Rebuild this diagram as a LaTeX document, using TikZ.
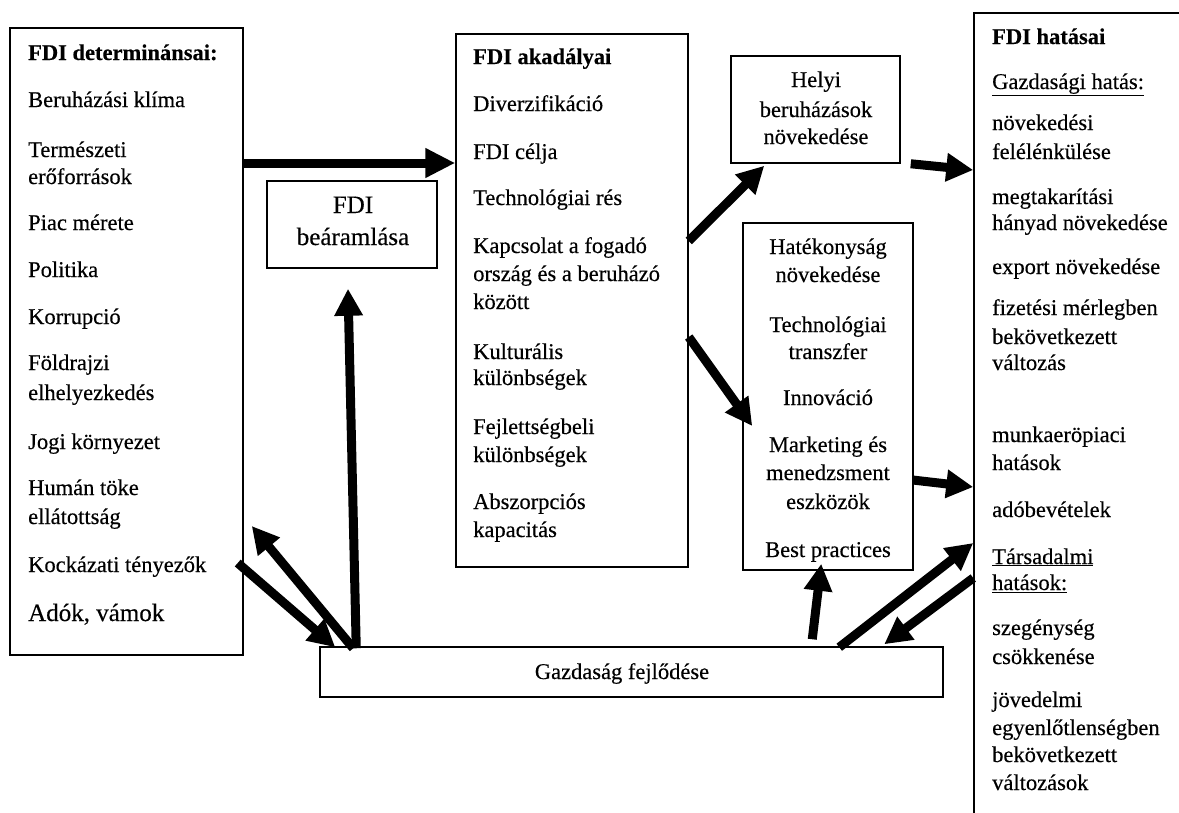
\documentclass[tikz,border=0pt]{standalone}
\usepackage{fontspec}
\setmainfont{Liberation Serif}[FakeBold=0.35]
\usetikzlibrary{arrows.meta,calc}
\tikzset{
  box/.style={draw, line width=1.5pt, inner sep=0pt, rectangle},
  txt/.style={anchor=base west, inner sep=0pt, font=\fontsize{22.5}{28}\selectfont},
  ctxt/.style={anchor=base, inner sep=0pt, font=\fontsize{22.5}{28}\selectfont},
  arr/.style={line width=9pt, -{Triangle[length=27pt,width=27pt]}},
}
\begin{document}
\begin{tikzpicture}[x=1pt,y=-1pt]
\useasboundingbox (0,0) rectangle (1179,812);
\fill[white] (0,0) rectangle (1179,812);
\clip (0,0) rectangle (1179,812);

% boxes
\node[box, minimum width=233pt, minimum height=627pt] (det) at (126.5,341.5) {};
\node[box, minimum width=170pt, minimum height=87pt] (inflow) at (352,224.5) {};
\node[box, minimum width=232pt, minimum height=533pt] (akad) at (572,300.5) {};
\node[box, minimum width=169pt, minimum height=107pt] (helyi) at (815.5,109.5) {};
\node[box, minimum width=170pt, minimum height=347pt] (hatek) at (828,396.5) {};
\node[box, minimum width=216pt, minimum height=817pt] (hatas) at (1082,421.5) {};
\node[box, minimum width=623pt, minimum height=50pt] (gazd) at (631.5,672) {};

% left box texts
\node[txt, font=\fontsize{22.5}{28}\selectfont\bfseries] (dh) at (28,60) {FDI determinánsai:};
\foreach \yy/\s [count=\i] in {100/Beruházási klíma, 150/Természeti, 177/erőforrások,
  223/Piac mérete, 270/Politika, 317/Korrupció, 363/Földrajzi, 393/elhelyezkedés,
  442/Jogi környezet, 488/Humán töke, 517/ellátottság, 565/Kockázati tényezők}
  \node[txt] (d\i) at (28,{\yy+7}) {\s};
\node[txt, font=\fontsize{25}{30}\selectfont] (dlast) at (28,621) {Adók, vámok};

% inflow
\node[ctxt, font=\fontsize{25}{30}\selectfont] (in1) at (353,213) {FDI};
\node[ctxt, font=\fontsize{25}{30}\selectfont] (in2) at (353,245) {beáramlása};

% akadályai
\node[txt, font=\fontsize{22.5}{28}\selectfont\bfseries] (ah) at (473,64) {FDI akadályai};
\foreach \yy/\s [count=\i] in {104/Diverzifikáció, 152/FDI célja, 198/Technológiai rés,
  246/Kapcsolat a fogadó, 274/ország és a beruházó, 302/között, 352/Kulturális,
  378/különbségek, 427/Fejlettségbeli, 455/különbségek, 502/Abszorpciós, 530/kapacitás}
  \node[txt] (a\i) at (473,{\yy+7}) {\s};

% helyi
\foreach \yy/\s [count=\i] in {80/Helyi, 110/beruházások, 137/növekedése}
  \node[ctxt] (h\i) at (816,{\yy+7}) {\s};

% hatékonyság
\foreach \yy/\s [count=\i] in {247/Hatékonyság, 275/növekedése, 325/Technológiai,
  352/transzfer, 398/Innováció, 445/Marketing és, 473/menedzsment, 502/eszközök,
  550/Best practices}
  \node[ctxt] (k\i) at (828,{\yy+7}) {\s};

% hatásai
\node[txt, font=\fontsize{22.5}{28}\selectfont\bfseries] (rh) at (992,44) {FDI hatásai};
\node[txt] (ru1) at (992,89) {\underline{Gazdasági hatás:}};
\foreach \yy/\s [count=\i] in {123/növekedési, 152/felélénkülése, 197/megtakarítási,
  223/hányad növekedése, 267/export növekedése, 308/fizetési mérlegben,
  337/bekövetkezett, 363/változás, 435/munkaeröpiaci, 463/hatások, 510/adóbevételek}
  \node[txt] (r\i) at (992,{\yy+7}) {\s};
\node[txt] (ru2) at (992,564) {\underline{Társadalmi}};
\node[txt] (ru3) at (992,590) {\underline{hatások:}};
\foreach \yy/\s [count=\i] in {628/szegénység, 657/csökkenése, 700/jövedelmi,
  728/egyenlőtlenségben, 755/bekövetkezett, 783/változások}
  \node[txt] (s\i) at (992,{\yy+7}) {\s};

% gazdaság
\node[ctxt] (gt) at (622,679) {Gazdaság fejlődése};

% arrows
\draw[arr, -{Triangle[length=30pt,width=28pt]}] (det.east |- 0,163) -- (akad.west |- 0,163);
\draw[arr] ($(gazd.north west)+(37,2)$) -- ([xshift=-4pt,yshift=-20pt]inflow.south);
\draw[arr] ($(gazd.north west)+(34,2)$) -- ($(det.east |- 0,526)+(8,0)$);
\draw[arr] ($(det.east |- 0,563)+(-6,0)$) -- ($(gazd.north west)+(16,1)$);
\draw[arr] (akad.east |- 0,241) -- ($(helyi.south west)+(34,2)$);
\draw[arr] (akad.east |- 0,337) -- ($(hatek.west |- 0,426)+(10,0)$);
\draw[arr] ($(helyi.south east)+(10,0)$) -- (hatas.west |- 0,170);
\draw[arr] ($(hatek.east |- 0,480)+(-1,0)$) -- (hatas.west |- 0,487);
\draw[arr] ($(gazd.north west)+(493,-7)$) -- ($(hatek.south west)+(79,-7)$);
\draw[arr] ($(gazd.north west)+(520,1)$) -- (hatas.west |- 0,543);
\draw[arr] (hatas.west |- 0,578) -- ($(gazd.north west)+(565,-2)$);
\end{tikzpicture}
\end{document}
